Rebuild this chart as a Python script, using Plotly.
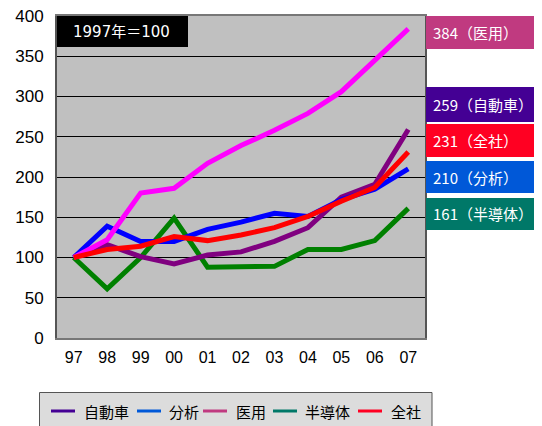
import plotly.graph_objects as go

years = ["97", "98", "99", "00", "01", "02", "03", "04", "05", "06", "07"]
jidosha = [100, 116, 101, 92, 103, 107, 120, 137, 175, 191, 259]
bunseki = [100, 139, 120, 120, 135, 144, 155, 151, 172, 185, 210]
iyo = [100, 122, 180, 186, 217, 239, 258, 279, 306, 345, 384]
handotai = [100, 61, 100, 149, 88, 88, 89, 110, 110, 121, 161]
zensha = [100, 110, 114, 126, 121, 128, 137, 151, 170, 187, 231]

names = ["自動車", "分析", "医用", "半導体", "全社"]
series = [jidosha, bunseki, iyo, handotai, zensha]
line_colors = ["#800080", "#0000ff", "#ff00ff", "#008000", "#ff0000"]
legend_colors = ["#440094", "#0058d8", "#c03a80", "#007868", "#ff0022"]

FONT = "Liberation Sans, Arial, Noto Sans CJK JP, sans-serif"
CJK = "Noto Sans CJK JP, sans-serif"

# page coordinates of plot area (page has 8px body margin)
PL, PR, PT, PB = 57, 425, 16, 338
W = float(PR - PL)
H = float(PB - PT)


def px(x):
    return (x - PL) / W


def py(y):
    return (PB - y) / H


fig = go.Figure()
order = [3, 0, 1, 2, 4]
for i in order:
    fig.add_trace(go.Scatter(x=years, y=series[i], mode="lines",
                             name=names[i],
                             line=dict(color=line_colors[i], width=5),
                             showlegend=False, hoverinfo="skip"))

labels = [("384（医用）", "#c03a80", 16, 49),
          ("259（自動車）", "#440094", 87, 122),
          ("231（全社）", "#ff0022", 124, 157),
          ("210（分析）", "#0058d8", 161, 193),
          ("161（半導体）", "#007868", 198, 230)]
shapes = []
annotations = []
for text, col, y0, y1 in labels:
    shapes.append(dict(type="rect", xref="paper", yref="paper",
                       x0=px(426), x1=px(550), y0=py(y1), y1=py(y0),
                       fillcolor=col, line=dict(width=0), layer="above"))
    annotations.append(dict(xref="paper", yref="paper", x=px(431),
                            y=py((y0 + y1) / 2), xanchor="left",
                            yanchor="middle", text=text, showarrow=False,
                            font=dict(color="white", size=15, family=CJK)))

# badge
shapes.append(dict(type="rect", xref="paper", yref="paper",
                   x0=0, x1=px(188), y0=py(47), y1=1,
                   fillcolor="black", line=dict(width=0), layer="above"))
annotations.append(dict(xref="paper", yref="paper", x=px(121),
                        y=py(31.5), xanchor="center", yanchor="middle",
                        text="1997年＝100", showarrow=False,
                        font=dict(color="white", size=15,
                                  family="DejaVu Sans, " + CJK)))

# manual legend (box, line samples, names)
shapes.append(dict(type="rect", xref="paper", yref="paper",
                   x0=px(39.5), x1=px(432), y0=py(450), y1=py(392.5),
                   fillcolor="#dcdcdc", line=dict(color="#555555", width=1),
                   layer="above"))
leg_line_x = [51, 137, 203, 273, 358]
leg_text_x = [82, 167, 234, 303, 389]
for i in range(5):
    shapes.append(dict(type="line", xref="paper", yref="paper",
                       x0=px(leg_line_x[i]), x1=px(leg_line_x[i] + 24),
                       y0=py(411), y1=py(411),
                       line=dict(color=legend_colors[i], width=3),
                       layer="above"))
    annotations.append(dict(xref="paper", yref="paper", x=px(leg_text_x[i]),
                            y=py(411), xanchor="left", yanchor="middle",
                            text=names[i], showarrow=False,
                            font=dict(color="black", size=15, family=CJK)))

fig.update_layout(
    width=534, height=418,
    margin=dict(l=PL - 8, r=534 - (PR - 8), t=PT - 8, b=418 - (PB - 8),
                autoexpand=False),
    paper_bgcolor="white", plot_bgcolor="#c0c0c0",
    font=dict(family=FONT, color="black"),
    shapes=shapes, annotations=annotations,
    showlegend=False,
    xaxis=dict(type="category", range=[-0.5, 10.5], showgrid=False,
               showline=True, linecolor="#777777", linewidth=2, mirror=True,
               ticks="", tickfont=dict(size=16), fixedrange=True,
               ticklabelstandoff=4, ticklabeloverflow="allow"),
    yaxis=dict(range=[0, 400], dtick=50, showgrid=True, gridcolor="black",
               gridwidth=1, showline=True, linecolor="#555555", linewidth=2,
               mirror=True, ticks="", tickfont=dict(size=17), zeroline=False,
               fixedrange=True, ticklabelstandoff=8,
               ticklabeloverflow="allow"),
)

fig.write_html("out.html")
